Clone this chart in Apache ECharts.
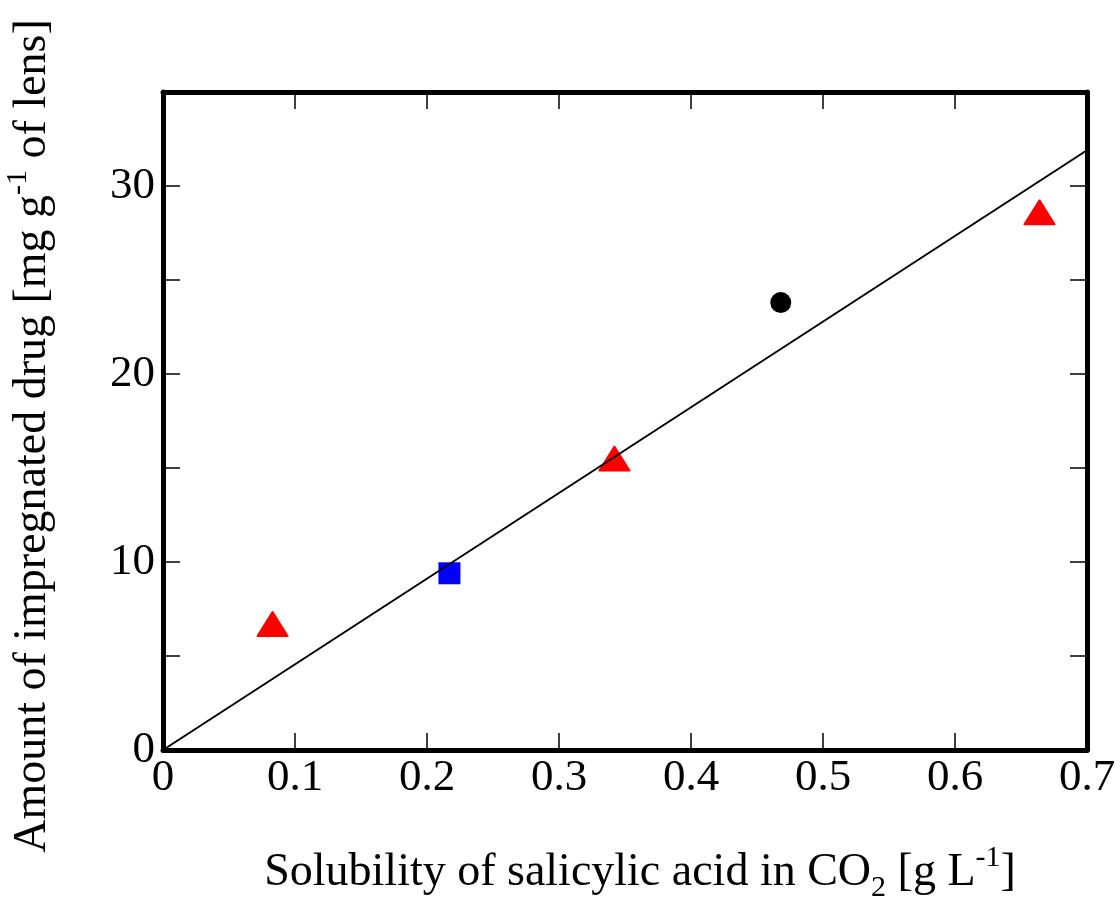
<!DOCTYPE html>
<html>
  <head>
    <meta charset="utf-8">
    <title>Salicylic acid impregnation</title>
    <script src="https://cdn.jsdelivr.net/npm/echarts@6/dist/echarts.min.js"></script>
    <style>
      body { margin: 0; background: #fff; }
    </style>
  </head>
  <body>
      <div id="main" style="width:1120px; height:901px;"></div>
      <script>
          // data
          var trianglePoints = [[0.083, 6.7], [0.342, 15.5], [0.664, 28.6]]
          var squarePoints = [[0.217, 9.4]]
          var circlePoints = [[0.468, 23.8]]
          var fitLine = [[0, 0], [0.7, 31.9]]

          var font = 'Liberation Serif'
          var thick = 5

          var element = document.querySelector('#main')
          var myChart = echarts.init(element)

          var frameAxis = function(pos) {
              return {
                  position: pos,
                  axisLine: {show: true, onZero: false, lineStyle: {color: '#000', width: thick}},
                  axisTick: {show: true, inside: true, length: 17, lineStyle: {color: '#000', width: 1.5}},
                  axisLabel: {show: false},
                  splitLine: {show: false}
              }
          }

          var xTop = frameAxis('top')
          xTop.type = 'value'
          xTop.min = 0
          xTop.max = 0.7
          xTop.interval = 0.1

          var yRight = frameAxis('right')
          yRight.type = 'value'
          yRight.min = 0
          yRight.max = 35
          yRight.interval = 5

          var option = {
              animation: false,
              grid: {left: 163, right: 33, top: 92, bottom: 151, containLabel: false, outerBoundsMode: 'none'},
              xAxis: [
                  {
                      type: 'value',
                      position: 'bottom',
                      min: 0,
                      max: 0.7,
                      interval: 0.1,
                      axisLine: {show: true, onZero: false, lineStyle: {color: '#000', width: thick}},
                      axisTick: {show: true, inside: true, length: 17, lineStyle: {color: '#000', width: 1.5}},
                      axisLabel: {color: '#000', fontFamily: font, fontSize: 45, margin: 6},
                      splitLine: {show: false},
                      name: '{n|Solubility of salicylic acid in CO}{sub|2}{n| [g L}{sup|-1}{n|]}',
                      nameLocation: 'middle',
                      nameGap: 93,
                      nameTextStyle: {
                          color: '#000',
                          fontFamily: font,
                          fontSize: 46,
                          padding: [0, 0, 0, 30],
                          rich: {
                              n: {fontFamily: font, fontSize: 46, color: '#000', lineHeight: 60},
                              sub: {fontFamily: font, fontSize: 30, color: '#000', verticalAlign: 'bottom', lineHeight: 60},
                              sup: {fontFamily: font, fontSize: 30, color: '#000', verticalAlign: 'top', lineHeight: 60}
                          }
                      }
                  },
                  xTop
              ],
              yAxis: [
                  {
                      type: 'value',
                      position: 'left',
                      min: 0,
                      max: 35,
                      interval: 5,
                      axisLine: {show: true, onZero: false, lineStyle: {color: '#000', width: thick}},
                      axisTick: {show: true, inside: true, length: 17, lineStyle: {color: '#000', width: 1.5}},
                      axisLabel: {
                          color: '#000', fontFamily: font, fontSize: 45, margin: 8,
                          formatter: function(v) { return v % 10 === 0 ? String(v) : '' }
                      },
                      splitLine: {show: false},
                      name: '{n|Amount of impregnated drug [mg g}{sup|-1}{n| of lens]}',
                      nameLocation: 'middle',
                      nameGap: 100,
                      nameTextStyle: {
                          color: '#000',
                          fontFamily: font,
                          fontSize: 46,
                          padding: [0, 30, 0, 0],
                          rich: {
                              n: {fontFamily: font, fontSize: 46, color: '#000', lineHeight: 60},
                              sup: {fontFamily: font, fontSize: 30, color: '#000', verticalAlign: 'top', lineHeight: 60}
                          }
                      }
                  },
                  yRight
              ],
              series: [
                  {
                      type: 'line',
                      data: fitLine,
                      symbol: 'none',
                      lineStyle: {color: '#000', width: 2}
                  },
                  {
                      type: 'scatter',
                      data: trianglePoints,
                      symbol: 'triangle',
                      symbolSize: [30, 24],
                      itemStyle: {color: '#ff0000', opacity: 1, borderColor: '#ff0000', borderWidth: 2, borderJoin: 'round'}
                  },
                  {
                      type: 'scatter',
                      data: squarePoints,
                      symbol: 'rect',
                      symbolSize: 22,
                      itemStyle: {color: '#0000ff', opacity: 1}
                  },
                  {
                      type: 'scatter',
                      data: circlePoints,
                      symbol: 'circle',
                      symbolSize: 21,
                      itemStyle: {color: '#000', opacity: 1}
                  }
              ]
          }

          myChart.setOption(option)
      </script>
  </body>
</html>
